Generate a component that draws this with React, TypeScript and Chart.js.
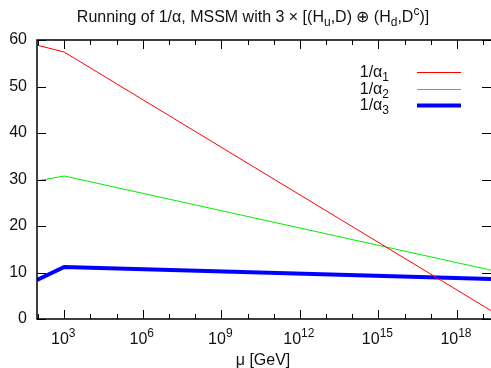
import React, { useEffect, useRef } from 'react';
import { Chart, registerables } from 'chart.js';

Chart.register(...registerables);

// log10(mu / GeV)
const logMu = [1.96, 3, 19.3];
const invAlpha1 = [58.9, 57.4, 1.8];
const invAlpha2 = [29.7, 30.75, 10.5];
const invAlpha3 = [8.4, 11.2, 8.6];
const seriesSubscripts = ['1', '2', '3'];
const seriesColors = ['#ff0000', '#00ee00', '#0000ff'];
const seriesWidths = [1, 1, 4];
const xMajorTicks = [3, 6, 9, 12, 15, 18];
const xMinorTicks = [2, 4, 5, 7, 8, 10, 11, 13, 14, 16, 17, 19];
const yTicks = [0, 10, 20, 30, 40, 50, 60];
const xMin = 1.96;
const xMax = 19.3;

const FAMILY = '"Liberation Sans", Arial, Helvetica, sans-serif';
const F = (s: number) => `${s}px ${FAMILY}`;
const TEXT = '#111';
const BIG = 16;
const SMALL = 12;

type Seg = { t: string; k?: 'sub' | 'sup' };

function richWidth(ctx: CanvasRenderingContext2D, segs: Seg[], size: number, small: number) {
  let w = 0;
  for (const s of segs) {
    ctx.font = F(s.k ? small : size);
    w += ctx.measureText(s.t).width;
  }
  return w;
}

function drawRich(
  ctx: CanvasRenderingContext2D,
  segs: Seg[],
  x: number,
  y: number,
  align: 'left' | 'center' | 'right',
  size: number,
  small: number
) {
  const w = richWidth(ctx, segs, size, small);
  let cx = align === 'left' ? x : align === 'center' ? x - w / 2 : x - w;
  ctx.textAlign = 'left';
  ctx.textBaseline = 'alphabetic';
  for (const s of segs) {
    ctx.font = F(s.k ? small : size);
    const dy = s.k === 'sub' ? 4 : s.k === 'sup' ? -7 : 0;
    ctx.fillText(s.t, cx, y + dy);
    cx += ctx.measureText(s.t).width;
  }
}

const decorPlugin = {
  id: 'decor',
  afterDraw(chart: any) {
    const ctx: CanvasRenderingContext2D = chart.ctx;
    const { left, right, top, bottom } = chart.chartArea;
    const xs = chart.scales.x;
    const ys = chart.scales.y;
    ctx.save();
    ctx.fillStyle = '#000';
    ctx.strokeStyle = '#000';

    // border (right side is outside the picture)
    ctx.lineWidth = 1.5;
    ctx.beginPath();
    ctx.moveTo(right + 2, top);
    ctx.lineTo(left, top);
    ctx.lineTo(left, bottom);
    ctx.lineTo(right + 2, bottom);
    ctx.stroke();

    ctx.lineWidth = 1;
    ctx.beginPath();
    for (const v of yTicks) {
      const py = Math.round(ys.getPixelForValue(v)) + 0.5;
      ctx.moveTo(left, py);
      ctx.lineTo(left + 9, py);
      ctx.moveTo(right, py);
      ctx.lineTo(right - 9, py);
    }
    for (const v of xMajorTicks) {
      const px = Math.round(xs.getPixelForValue(v)) + 0.5;
      ctx.moveTo(px, bottom);
      ctx.lineTo(px, bottom - 9);
      ctx.moveTo(px, top);
      ctx.lineTo(px, top + 9);
    }
    for (const v of xMinorTicks) {
      const px = Math.round(xs.getPixelForValue(v)) + 0.5;
      ctx.moveTo(px, bottom);
      ctx.lineTo(px, bottom - 5);
      ctx.moveTo(px, top);
      ctx.lineTo(px, top + 5);
    }
    ctx.stroke();

    // y tick labels
    ctx.fillStyle = TEXT;
    ctx.font = F(BIG);
    ctx.textAlign = 'right';
    ctx.textBaseline = 'middle';
    for (const v of yTicks) {
      ctx.fillText(String(v), 27, ys.getPixelForValue(v));
    }

    // x tick labels 10^n
    for (const v of xMajorTicks) {
      const px = xs.getPixelForValue(v);
      drawRich(ctx, [{ t: '10' }, { t: String(v), k: 'sup' }], px - 1, 344, 'center', BIG, SMALL);
    }

    // axis title
    drawRich(ctx, [{ t: 'μ [GeV]' }], 263, 365, 'center', BIG, SMALL);

    // chart title
    drawRich(
      ctx,
      [
        { t: 'Running of 1/α, MSSM with 3 × [(H' },
        { t: 'u', k: 'sub' },
        { t: ',D) ⊕ (H' },
        { t: 'd', k: 'sub' },
        { t: ',D' },
        { t: 'c', k: 'sup' },
        { t: ')]' },
      ],
      253,
      22,
      'center',
      BIG,
      SMALL
    );

    // legend
    const rowsY = [72, 89, 105];
    seriesSubscripts.forEach((s, i) => {
      const y = rowsY[i];
      ctx.fillStyle = TEXT;
      drawRich(ctx, [{ t: '1/α' }, { t: s, k: 'sub' }], 389, y + 5, 'right', BIG, SMALL);
      ctx.strokeStyle = seriesColors[i];
      ctx.lineWidth = seriesWidths[i];
      ctx.beginPath();
      ctx.moveTo(417, y + 0.5);
      ctx.lineTo(461, y + 0.5);
      ctx.stroke();
    });

    ctx.restore();
  },
};

export default function App() {
  const ref = useRef<HTMLCanvasElement>(null);
  useEffect(() => {
    const series = [invAlpha1, invAlpha2, invAlpha3];
    const chart = new Chart(ref.current!, {
      type: 'line',
      data: {
        datasets: series.map((vals, i) => ({
          label: '1/α' + seriesSubscripts[i],
          data: logMu.map((x, j) => ({ x, y: vals[j] })),
          borderColor: seriesColors[i],
          borderWidth: seriesWidths[i],
          pointRadius: 0,
          tension: 0,
          fill: false,
        })),
      },
      options: {
        animation: false,
        responsive: false,
        devicePixelRatio: 1,
        layout: { padding: { top: 40, right: 0, left: 0, bottom: 0 } },
        plugins: { legend: { display: false }, title: { display: false }, tooltip: { enabled: false } },
        scales: {
          x: {
            type: 'linear',
            min: xMin,
            max: xMax,
            grid: { display: false },
            border: { display: false },
            ticks: { display: false },
            afterFit: (s: any) => {
              s.height = 49;
            },
          },
          y: {
            min: 0,
            max: 60,
            grid: { display: false },
            border: { display: false },
            ticks: { display: false, stepSize: 10 },
            afterFit: (s: any) => {
              s.width = 37;
            },
          },
        },
      },
      plugins: [decorPlugin],
    });
    return () => chart.destroy();
  }, []);
  return (
    <div style={{ position: 'fixed', left: 0, top: 0, width: 491, height: 368, background: '#fff' }}>
      <canvas ref={ref} width={491} height={368} />
    </div>
  );
}
